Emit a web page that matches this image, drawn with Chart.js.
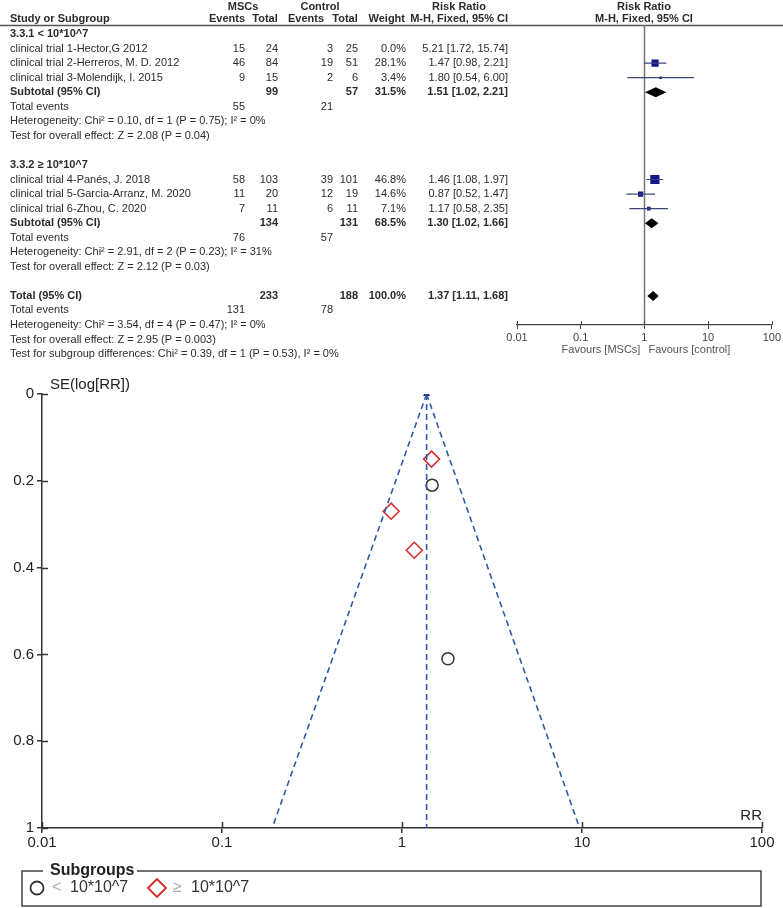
<!DOCTYPE html>
<html>
<head>
<meta charset="utf-8">
<script src="https://cdn.jsdelivr.net/npm/chart.js@4.4.0/dist/chart.umd.min.js"></script>
<style>
  body { margin: 0; background: #fff; }
  canvas { display: block; }
</style>
</head>
<body>
<canvas id="forest" width="783" height="370"></canvas>
<canvas id="funnel" width="783" height="538"></canvas>
<script>
const FONT = '"Liberation Sans", Arial, sans-serif';

// ---- forest table data ----
const groupTitles = ['3.3.1 < 10*10^7', '3.3.2 \u2265 10*10^7'];
const groupRows = [0, 9];

const studyNames = [
  'clinical trial 1-Hector,G 2012',
  'clinical trial 2-Herreros, M. D. 2012',
  'clinical trial 3-Molendijk, I. 2015',
  'clinical trial 4-Pan\u00e9s, J. 2018',
  'clinical trial 5-Garcia-Arranz, M. 2020',
  'clinical trial 6-Zhou, C. 2020'
];
const studyRow = [1, 2, 3, 10, 11, 12];
const mscEvents = [15, 46, 9, 58, 11, 7];
const mscTotal = [24, 84, 15, 103, 20, 11];
const ctlEvents = [3, 19, 2, 39, 12, 6];
const ctlTotal = [25, 51, 6, 101, 19, 11];
const studyWeight = [0.0, 28.1, 3.4, 46.8, 14.6, 7.1];
const studyRR = [5.21, 1.47, 1.80, 1.46, 0.87, 1.17];
const studyLo = [1.72, 0.98, 0.54, 1.08, 0.52, 0.58];
const studyHi = [15.74, 2.21, 6.00, 1.97, 1.47, 2.35];

const pooledNames = ['Subtotal (95% CI)', 'Subtotal (95% CI)', 'Total (95% CI)'];
const pooledRow = [4, 13, 18];
const pooledMscTotal = [99, 134, 233];
const pooledCtlTotal = [57, 131, 188];
const pooledWeight = [31.5, 68.5, 100.0];
const pooledRR = [1.51, 1.30, 1.37];
const pooledLo = [1.02, 1.02, 1.11];
const pooledHi = [2.21, 1.66, 1.68];

const eventRows = [5, 14, 19];
const eventMsc = [55, 76, 131];
const eventCtl = [21, 57, 78];

const noteRows = [6, 7, 15, 16, 20, 21, 22];
const noteTexts = [
  'Heterogeneity: Chi\u00b2 = 0.10, df = 1 (P = 0.75); I\u00b2 = 0%',
  'Test for overall effect: Z = 2.08 (P = 0.04)',
  'Heterogeneity: Chi\u00b2 = 2.91, df = 2 (P = 0.23); I\u00b2 = 31%',
  'Test for overall effect: Z = 2.12 (P = 0.03)',
  'Heterogeneity: Chi\u00b2 = 3.54, df = 4 (P = 0.47); I\u00b2 = 0%',
  'Test for overall effect: Z = 2.95 (P = 0.003)',
  'Test for subgroup differences: Chi\u00b2 = 0.39, df = 1 (P = 0.53), I\u00b2 = 0%'
];

const forestTicks = [0.01, 0.1, 1, 10, 100];

// ---- funnel data ----
const groupLabels = ['< 10*10^7', '\u2265 10*10^7'];
const g1RR = [1.47, 1.80];
const g1SE = [0.21, 0.61];
const g2RR = [1.46, 0.87, 1.17];
const g2SE = [0.15, 0.27, 0.36];
const pooledAll = 1.37;
const funnelLoAtSE1 = 0.19;
const funnelHiAtSE1 = 9.7;
const funnelXTicks = [0.01, 0.1, 1, 10, 100];
const funnelYTicks = [0, 0.2, 0.4, 0.6, 0.8, 1];

const fmtRR = (e, l, h) => e.toFixed(2) + ' [' + l.toFixed(2) + ', ' + h.toFixed(2) + ']';

function txt(ctx, s, px, py, align, bold, color, size) {
  ctx.font = (bold ? 'bold ' : '') + (size || 11) + 'px ' + FONT;
  ctx.textAlign = align;
  ctx.textBaseline = 'middle';
  ctx.fillStyle = color || '#2b2b2b';
  ctx.fillText(s, px, py);
}

const forestTable = {
  id: 'forestTable',
  beforeDatasetsDraw(chart) {
    const { ctx, scales: { x }, chartArea } = chart;
    ctx.save();
    ctx.strokeStyle = '#555';
    ctx.lineWidth = 1.5;
    ctx.beginPath();
    ctx.moveTo(0, 25.5);
    ctx.lineTo(chart.width, 25.5);
    ctx.stroke();

    const x1 = Math.round(x.getPixelForValue(1)) + 0.5;
    ctx.strokeStyle = '#777';
    ctx.beginPath();
    ctx.moveTo(x1, chartArea.top);
    ctx.lineTo(x1, chartArea.bottom);
    ctx.stroke();

    ctx.strokeStyle = '#444';
    ctx.lineWidth = 1;
    forestTicks.forEach(v => {
      const px = Math.round(x.getPixelForValue(v)) + 0.5;
      ctx.beginPath();
      ctx.moveTo(px, chartArea.bottom);
      ctx.lineTo(px, chartArea.bottom - 4);
      ctx.stroke();
    });
    ctx.restore();
  },
  afterDatasetsDraw(chart) {
    const { ctx, scales: { x, y } } = chart;
    ctx.save();
    ctx.fillStyle = '#000';
    pooledRR.forEach((e, i) => {
      const py = y.getPixelForValue(pooledRow[i]);
      ctx.beginPath();
      ctx.moveTo(x.getPixelForValue(pooledLo[i]), py);
      ctx.lineTo(x.getPixelForValue(e), py - 5);
      ctx.lineTo(x.getPixelForValue(pooledHi[i]), py);
      ctx.lineTo(x.getPixelForValue(e), py + 5);
      ctx.closePath();
      ctx.fill();
    });
    ctx.restore();
  },
  afterDraw(chart) {
    const { ctx, scales: { x, y } } = chart;
    ctx.save();
    // headers
    txt(ctx, 'MSCs', 243, 7, 'center', true);
    txt(ctx, 'Control', 320, 7, 'center', true);
    txt(ctx, 'Risk Ratio', 459, 7, 'center', true);
    txt(ctx, 'Risk Ratio', 644, 7, 'center', true);
    txt(ctx, 'Study or Subgroup', 10, 19, 'left', true);
    txt(ctx, 'Events', 227, 19, 'center', true);
    txt(ctx, 'Total', 265, 19, 'center', true);
    txt(ctx, 'Events', 306, 19, 'center', true);
    txt(ctx, 'Total', 345, 19, 'center', true);
    txt(ctx, 'Weight', 405, 19, 'right', true);
    txt(ctx, 'M-H, Fixed, 95% CI', 508, 19, 'right', true);
    txt(ctx, 'M-H, Fixed, 95% CI', 644, 19, 'center', true);

    groupTitles.forEach((t, i) => txt(ctx, t, 10, y.getPixelForValue(groupRows[i]), 'left', true));

    studyNames.forEach((n, i) => {
      const py = y.getPixelForValue(studyRow[i]);
      txt(ctx, n, 10, py, 'left');
      txt(ctx, String(mscEvents[i]), 245, py, 'right');
      txt(ctx, String(mscTotal[i]), 278, py, 'right');
      txt(ctx, String(ctlEvents[i]), 333, py, 'right');
      txt(ctx, String(ctlTotal[i]), 358, py, 'right');
      txt(ctx, studyWeight[i].toFixed(1) + '%', 406, py, 'right');
      txt(ctx, fmtRR(studyRR[i], studyLo[i], studyHi[i]), 508, py, 'right');
    });

    pooledNames.forEach((n, i) => {
      const py = y.getPixelForValue(pooledRow[i]);
      txt(ctx, n, 10, py, 'left', true);
      txt(ctx, String(pooledMscTotal[i]), 278, py, 'right', true);
      txt(ctx, String(pooledCtlTotal[i]), 358, py, 'right', true);
      txt(ctx, pooledWeight[i].toFixed(1) + '%', 406, py, 'right', true);
      txt(ctx, fmtRR(pooledRR[i], pooledLo[i], pooledHi[i]), 508, py, 'right', true);
    });

    eventRows.forEach((r, i) => {
      const py = y.getPixelForValue(r);
      txt(ctx, 'Total events', 10, py, 'left');
      txt(ctx, String(eventMsc[i]), 245, py, 'right');
      txt(ctx, String(eventCtl[i]), 333, py, 'right');
    });

    noteRows.forEach((r, i) => txt(ctx, noteTexts[i], 10, y.getPixelForValue(r), 'left'));

    const x1 = x.getPixelForValue(1);
    txt(ctx, 'Favours [MSCs]', x1 - 4, 350, 'right', false, '#555');
    txt(ctx, 'Favours [control]', x1 + 4, 350, 'left', false, '#555');
    ctx.restore();
  }
};

const ciSets = studyNames.map((n, i) => ({
  data: studyWeight[i] > 0
    ? [{ x: studyLo[i], y: studyRow[i] }, { x: studyHi[i], y: studyRow[i] }]
    : [],
  showLine: true,
  borderColor: '#3a4775',
  borderWidth: 1.2,
  pointRadius: 0
}));

new Chart(document.getElementById('forest'), {
  type: 'scatter',
  data: {
    datasets: [
      ...ciSets,
      {
        data: studyNames.map((n, i) => ({ x: studyRR[i], y: studyRow[i] })),
        pointStyle: 'rect',
        pointRadius: studyWeight.map(w => w > 0 ? 0.95 * Math.sqrt(w) : 0),
        backgroundColor: '#14148c',
        borderColor: '#14148c',
        borderWidth: 0
      }
    ]
  },
  options: {
    responsive: false,
    animation: false,
    layout: { padding: { left: 517, right: 10, top: 25, bottom: 0 } },
    plugins: { legend: { display: false }, tooltip: { enabled: false } },
    scales: {
      x: {
        type: 'logarithmic',
        min: 0.01,
        max: 100,
        afterBuildTicks: s => { s.ticks = forestTicks.map(v => ({ value: v })); },
        afterFit: s => { s.height = 45; },
        ticks: {
          callback: v => String(v),
          autoSkip: false,
          maxRotation: 0,
          padding: 2,
          color: '#444',
          font: { size: 11, family: FONT }
        },
        grid: { drawOnChartArea: false, tickLength: 4, color: '#444' },
        border: { color: '#444', width: 1.2 }
      },
      y: {
        display: false,
        min: -0.62,
        max: 20,
        reverse: true
      }
    }
  },
  plugins: [forestTable]
});

// ---- funnel plot ----
const funnelExtras = {
  id: 'funnelExtras',
  afterDraw(chart) {
    const { ctx, scales: { x, y }, chartArea } = chart;
    ctx.save();
    ctx.strokeStyle = '#333';
    ctx.lineWidth = 1.5;
    funnelYTicks.forEach(v => {
      const py = Math.round(y.getPixelForValue(v)) + 0.5;
      ctx.beginPath();
      ctx.moveTo(chartArea.left, py);
      ctx.lineTo(chartArea.left + 6, py);
      ctx.stroke();
    });
    funnelXTicks.forEach(v => {
      const px = Math.round(x.getPixelForValue(v)) + 0.5;
      ctx.beginPath();
      ctx.moveTo(px, chartArea.bottom);
      ctx.lineTo(px, chartArea.bottom - 6);
      ctx.stroke();
    });

    txt(ctx, 'SE(log[RR])', 50, 15, 'left', false, '#222', 15);
    txt(ctx, 'RR', chartArea.right, chartArea.bottom - 12, 'right', false, '#222', 15);

    // legend box
    const L = 22, T = 501, R = 761, B = 536;
    ctx.strokeStyle = '#444';
    ctx.lineWidth = 1.5;
    ctx.beginPath();
    ctx.moveTo(43, T);
    ctx.lineTo(L, T);
    ctx.lineTo(L, B);
    ctx.lineTo(R, B);
    ctx.lineTo(R, T);
    ctx.lineTo(137, T);
    ctx.stroke();
    txt(ctx, 'Subgroups', 50, T, 'left', true, '#222', 16);

    const ly = 518;
    const ds = chart.data.datasets;
    ctx.lineWidth = 1.8;
    ctx.strokeStyle = ds[3].borderColor;
    ctx.beginPath();
    ctx.arc(37, ly, 6.5, 0, Math.PI * 2);
    ctx.stroke();
    txt(ctx, groupLabels[0].slice(0, 1), 52, ly, 'left', false, '#aaa', 16);
    txt(ctx, groupLabels[0].slice(1).trim(), 70, ly, 'left', false, '#333', 16);

    ctx.strokeStyle = ds[4].borderColor;
    ctx.beginPath();
    ctx.moveTo(148, ly);
    ctx.lineTo(157, ly - 9);
    ctx.lineTo(166, ly);
    ctx.lineTo(157, ly + 9);
    ctx.closePath();
    ctx.stroke();
    txt(ctx, groupLabels[1].slice(0, 1), 173, ly, 'left', false, '#aaa', 16);
    txt(ctx, groupLabels[1].slice(1).trim(), 191, ly, 'left', false, '#333', 16);
    ctx.restore();
  }
};

const dashed = {
  showLine: true,
  borderColor: '#2f5aa6',
  borderWidth: 1.6,
  borderDash: [6, 4],
  pointRadius: 0
};

new Chart(document.getElementById('funnel'), {
  type: 'scatter',
  data: {
    datasets: [
      { ...dashed, data: [{ x: pooledAll, y: 0 }, { x: funnelLoAtSE1, y: 1 }] },
      { ...dashed, data: [{ x: pooledAll, y: 0 }, { x: funnelHiAtSE1, y: 1 }] },
      {
        ...dashed,
        data: [{ x: pooledAll, y: 0 }, { x: pooledAll, y: 1 }],
        pointRadius: [2.5, 0],
        pointStyle: 'triangle',
        pointBackgroundColor: '#1a237e',
        pointBorderColor: '#1a237e'
      },
      {
        data: g1RR.map((v, i) => ({ x: v, y: g1SE[i] })),
        pointStyle: 'circle',
        pointRadius: 6,
        borderColor: '#333',
        backgroundColor: 'rgba(0,0,0,0)',
        borderWidth: 1.5
      },
      {
        data: g2RR.map((v, i) => ({ x: v, y: g2SE[i] })),
        pointStyle: 'rectRot',
        pointRadius: 8,
        borderColor: '#d42a2a',
        backgroundColor: 'rgba(0,0,0,0)',
        borderWidth: 1.5
      }
    ]
  },
  options: {
    responsive: false,
    animation: false,
    layout: { padding: { left: 0, right: 21, top: 24, bottom: 0 } },
    plugins: { legend: { display: false }, tooltip: { enabled: false } },
    scales: {
      x: {
        type: 'logarithmic',
        min: 0.01,
        max: 100,
        afterBuildTicks: s => { s.ticks = funnelXTicks.map(v => ({ value: v })); },
        afterFit: s => { s.height = 80; },
        ticks: {
          callback: v => String(v),
          autoSkip: false,
          maxRotation: 0,
          padding: 1,
          color: '#222',
          font: { size: 15, family: FONT }
        },
        grid: { drawOnChartArea: false, tickLength: 5, color: '#333', lineWidth: 1.5 },
        border: { color: '#333', width: 1.5 }
      },
      y: {
        min: 0,
        max: 1,
        reverse: true,
        afterBuildTicks: s => { s.ticks = funnelYTicks.map(v => ({ value: v })); },
        afterFit: s => { s.width = 42; },
        ticks: {
          callback: v => String(Math.round(v * 10) / 10),
          padding: 3,
          color: '#222',
          font: { size: 15, family: FONT }
        },
        grid: { drawOnChartArea: false, tickLength: 5, color: '#333', lineWidth: 1.5 },
        border: { color: '#333', width: 1.5 }
      }
    }
  },
  plugins: [funnelExtras]
});
</script>
</body>
</html>
